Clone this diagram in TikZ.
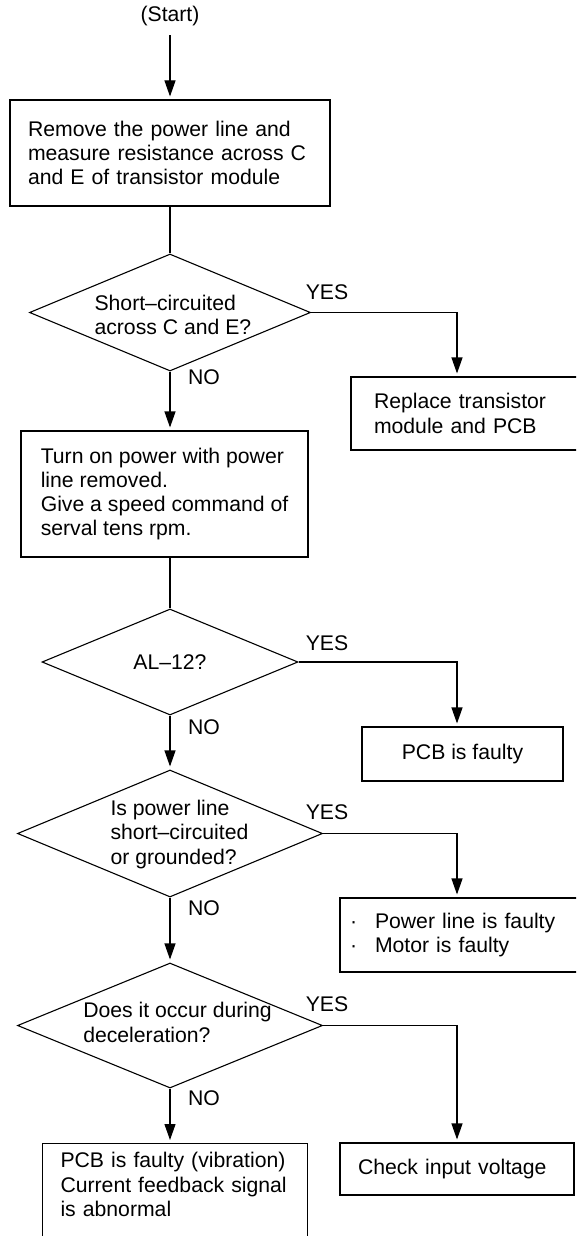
\documentclass[tikz,border=0pt]{standalone}
\usepackage{fontspec}
\setmainfont{Liberation Sans}
\usetikzlibrary{arrows.meta,shapes.geometric}

\begin{document}
\begin{tikzpicture}[x=1pt,y=-1pt,line width=1.1pt,
  font=\fontsize{21.2}{24.3}\selectfont,
  box/.style={draw,rectangle,align=left,inner xsep=18pt,inner ysep=0pt},
  ask/.style={draw,diamond,inner sep=0pt},
  asktext/.style={align=left,inner sep=0pt,anchor=west},
  link/.style={-{Triangle[length=16pt,width=11pt]},shorten >=3pt}]
  \clip (0,0) rectangle (576,1236);
  \coordinate (yesx) at (457,0);

  % Start
  \node[inner sep=9pt] (start) at (170,16) {(Start)};
  \node[box,minimum width=320pt,minimum height=106pt,text width=284pt] (remove) at (170,153)
    {Remove the power line and\\measure resistance across C\\and E of transistor module};

  % Question 1
  \node[ask,minimum width=281pt,minimum height=117pt] (short) at (170,312.5) {};
  \node[asktext] (shorttxt) at (94,315) {Short--circuited\\across C and E?};
  \node[box,minimum width=249pt,minimum height=73pt,text width=203pt,inner xsep=23pt] (replace) at (475.5,413.5)
    {Replace transistor\\module and PCB};
  \node (yes1) at (327,292) {YES};
  \node (no1) at (204,377) {NO};

  \node[box,minimum width=287pt,minimum height=126pt,inner xsep=0pt] (turnon) at (164.5,494)
    {Turn on power with power\\line removed.\\Give a speed command of\\serval tens rpm.};

  % Question 2
  \node[ask,minimum width=256pt,minimum height=106pt] (alarm) at (170,662) {};
  \node[inner sep=0pt] (alarmtxt) at (alarm) {AL--12?};
  \node[box,minimum width=201pt,minimum height=54pt,align=center,inner xsep=0pt] (pcb) at (462.5,754)
    {PCB is faulty};
  \node (yes2) at (327,643) {YES};
  \node (no2) at (204,727) {NO};

  % Question 3
  \node[ask,minimum width=305pt,minimum height=127pt] (ground) at (170,833.5) {};
  \node[asktext] (groundtxt) at (110,834.5) {Is power line\\short--circuited\\or grounded?};
  \node[box,minimum width=260pt,minimum height=74pt,text width=240pt,inner xsep=10pt] (motor) at (470,935)
    {\makebox[25pt][l]{·}Power line is faulty\\\makebox[25pt][l]{·}Motor is faulty};
  \node (yes3) at (327,812) {YES};
  \node (no3) at (204,908) {NO};

  % Question 4
  \node[ask,minimum width=305pt,minimum height=125pt] (decel) at (170,1025.5) {};
  \node[asktext] (deceltxt) at (82.7,1022.5) {Does it occur during\\deceleration?};
  \node[box,minimum width=234pt,minimum height=52pt,text width=198pt] (voltage) at (457,1169)
    {Check input voltage};
  \node[box,anchor=north,text width=229pt,inner ysep=9pt,text depth=80pt] (vibration) at (175,1143)
    {PCB is faulty (vibration)\\Current feedback signal\\is abnormal};
  \node (yes4) at (327,1004) {YES};
  \node (no4) at (204,1098) {NO};

  % Connectors
  \draw[link] (start) -- (remove);
  \draw (remove) -- (short);
  \draw[link] (short.south) -- (short.south |- turnon.north);
  \draw[link] (short.east) -| (yesx |- replace.north);
  \draw (turnon.south -| alarm.north) -- (alarm.north);
  \draw[link] (alarm.east) -| (yesx |- pcb.north);
  \draw[link] (alarm) -- (ground);
  \draw[link] (ground.east) -| (yesx |- motor.north);
  \draw[link] (ground) -- (decel);
  \draw[link] (decel.east) -| (yesx |- voltage.north);
  \draw[link] (decel.south) -- (decel.south |- vibration.north);
\end{tikzpicture}
\end{document}
